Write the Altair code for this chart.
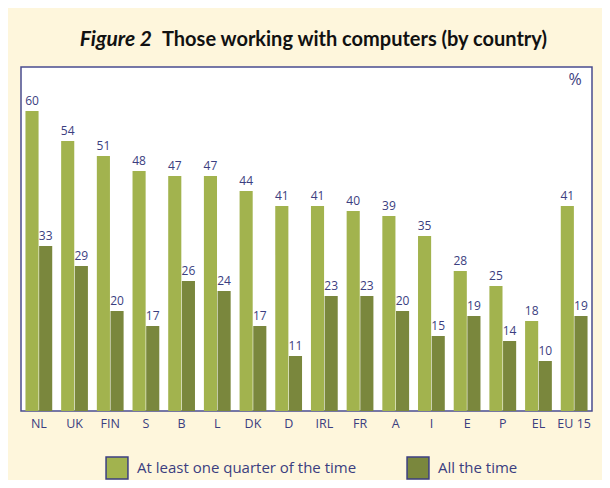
import altair as alt
import pandas as pd

countries = ["NL", "UK", "FIN", "S", "B", "L", "DK", "D", "IRL", "FR", "A", "I", "E", "P", "EL", "EU 15"]
quarter = [60, 54, 51, 48, 47, 47, 44, 41, 41, 40, 39, 35, 28, 25, 18, 41]
all_time = [33, 29, 20, 17, 26, 24, 17, 11, 23, 23, 20, 15, 19, 14, 10, 19]
series = ["At least one quarter of the time", "All the time"]
colors = ["#A2B34E", "#7A873D"]

rows = []
for c, q, a in zip(countries, quarter, all_time):
    rows.append({"country": c, "series": series[0], "value": q})
    rows.append({"country": c, "series": series[1], "value": a})
df = pd.DataFrame(rows)

NAVY = "#3B3E80"
FONT = "Open Sans"
TFONT = "Lato"

x = alt.X("country:N", sort=countries,
          scale=alt.Scale(paddingInner=0.25, paddingOuter=0.125),
          axis=alt.Axis(title=None, ticks=False, domain=False, labelAngle=0,
                        labelColor=NAVY, labelFontSize=12.5, labelPadding=6, labelFont=FONT))
xo = alt.XOffset("series:N", sort=series, scale=alt.Scale(paddingInner=0.04))
y = alt.Y("value:Q", scale=alt.Scale(domain=[0, 68.8], nice=False), axis=None)

base = alt.Chart(df)
bars = base.mark_bar().encode(
    x=x, xOffset=xo, y=y,
    color=alt.Color("series:N", sort=series,
                    scale=alt.Scale(domain=series, range=colors),
                    legend=alt.Legend(title=None, orient="none", legendX=84, legendY=389,
                                      direction="horizontal", symbolType="square",
                                      symbolSize=480, symbolStrokeColor=NAVY,
                                      symbolStrokeWidth=1.5, symbolOpacity=1,
                                      labelFontSize=15, labelColor=NAVY, labelFont=FONT,
                                      labelLimit=0, labelOffset=8, columnPadding=47)),
)
labels = base.mark_text(baseline="bottom", dy=-3, fontSize=12, color=NAVY, font=FONT).encode(
    x=x, xOffset=xo, y=y, text="value:Q"
)

tdf = pd.DataFrame({"t": ["Figure 2"]})
fig = alt.Chart(tdf).mark_text(align="right", baseline="middle", fontSize=21, fontWeight="bold",
                               fontStyle="italic", color="#111111", font=TFONT).encode(
    x=alt.value(131), y=alt.value(-27), text="t:N")
tdf2 = pd.DataFrame({"t": ["Those working with computers (by country)"]})
ttl = alt.Chart(tdf2).mark_text(align="left", baseline="middle", fontSize=20, fontWeight="bold",
                                color="#111111", font=TFONT).encode(
    x=alt.value(141), y=alt.value(-27), text="t:N")
pdf = pd.DataFrame({"t": ["%"]})
pct = alt.Chart(pdf).mark_text(align="center", baseline="middle", fontSize=16,
                               color=NAVY, font=FONT).encode(
    x=alt.value(554), y=alt.value(13), text="t:N")

chart = alt.layer(bars, labels, fig, ttl, pct).properties(
    width=571, height=344,
    autosize=alt.AutoSizeParams(type="none"),
    padding={"left": 13, "top": 59, "right": 10, "bottom": 69},
    background="#FEF6DC",
).configure_view(fill="white", stroke="#4A4C8E", strokeWidth=1.5)

chart.save("out.html", embed_options={"renderer": "svg", "actions": False})
